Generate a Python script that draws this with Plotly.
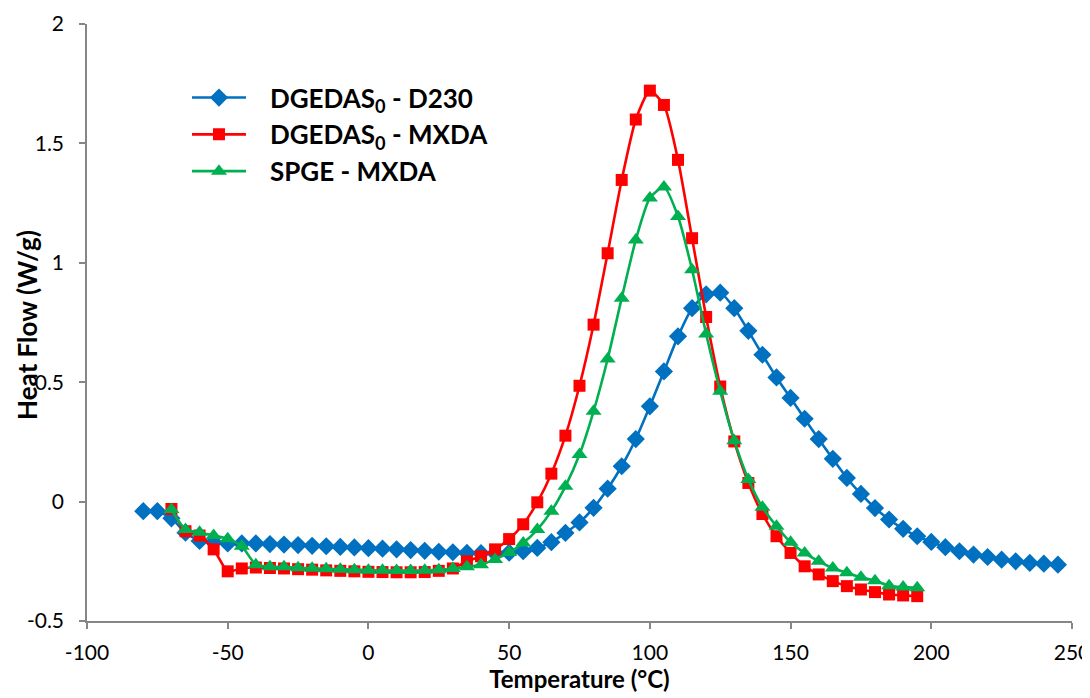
import plotly.graph_objects as go

# Temperatures (°C)
temp_d230 = list(range(-80, 250, 5))
temp_mxda = list(range(-70, 200, 5))

# Heat flow (W/g)
hf_dgedas_d230 = [
    -0.04, -0.04, -0.07, -0.13, -0.165, -0.17, -0.175, -0.175, -0.175, -0.178,
    -0.18, -0.182, -0.185, -0.187, -0.19, -0.192, -0.195, -0.197, -0.2, -0.203,
    -0.206, -0.21, -0.212, -0.215, -0.216, -0.216, -0.214, -0.208, -0.194, -0.17,
    -0.131, -0.087, -0.026, 0.054, 0.148, 0.262, 0.399, 0.545, 0.692, 0.81,
    0.868, 0.875, 0.81, 0.715, 0.615, 0.52, 0.434, 0.347, 0.262, 0.179,
    0.099, 0.032, -0.027, -0.075, -0.114, -0.145, -0.169, -0.191, -0.208, -0.222,
    -0.232, -0.243, -0.25, -0.257, -0.26, -0.264,
]
hf_dgedas_mxda = [
    -0.031, -0.124, -0.142, -0.2, -0.292, -0.28, -0.276, -0.278, -0.28, -0.283,
    -0.285, -0.288, -0.29, -0.292, -0.294, -0.295, -0.296, -0.296, -0.295, -0.29,
    -0.28, -0.25, -0.229, -0.2, -0.157, -0.095, -0.003, 0.117, 0.276, 0.485,
    0.741, 1.04, 1.347, 1.60, 1.721, 1.661, 1.431, 1.103, 0.773, 0.482,
    0.252, 0.078, -0.052, -0.145, -0.215, -0.271, -0.305, -0.333, -0.354, -0.368,
    -0.379, -0.389, -0.393, -0.396,
]
hf_spge_mxda = [
    -0.033, -0.117, -0.128, -0.142, -0.156, -0.187, -0.264, -0.273, -0.273, -0.277,
    -0.279, -0.281, -0.283, -0.285, -0.287, -0.288, -0.289, -0.289, -0.288, -0.285,
    -0.28, -0.273, -0.264, -0.242, -0.213, -0.173, -0.117, -0.04, 0.064, 0.197,
    0.378, 0.597, 0.852, 1.096, 1.271, 1.317, 1.194, 0.971, 0.702, 0.462,
    0.255, 0.093, -0.024, -0.103, -0.17, -0.215, -0.25, -0.278, -0.298, -0.317,
    -0.331, -0.352, -0.358, -0.361,
]

pad = "\u00a0\u00a0\u00a0"
series_names = ["DGEDAS<sub>0</sub> - D230", "DGEDAS<sub>0</sub> - MXDA", "SPGE - MXDA"]
series_colors = ["#0070C0", "#FF0000", "#00B050"]
x_ticks = [-100, -50, 0, 50, 100, 150, 200, 250]
x_ticktext = ["-100", "-50", "0", "50", "100", "150", "200", "250"]
y_ticks = [-0.5, 0, 0.5, 1, 1.5, 2]
y_ticktext = ["-0.5", "0", "0.5", "1", "1.5", "2"]

fig = go.Figure()
fig.add_trace(go.Scatter(
    x=temp_d230, y=hf_dgedas_d230, name=pad + series_names[0], mode="lines+markers",
    line=dict(color=series_colors[0], width=2.6, shape="spline", smoothing=0.6),
    marker=dict(symbol="diamond", size=14, color=series_colors[0]),
))
fig.add_trace(go.Scatter(
    x=temp_mxda, y=hf_dgedas_mxda, name=pad + series_names[1], mode="lines+markers",
    line=dict(color=series_colors[1], width=2.6, shape="spline", smoothing=0.6),
    marker=dict(symbol="square", size=12, color=series_colors[1]),
))
fig.add_trace(go.Scatter(
    x=temp_mxda, y=hf_spge_mxda, name=pad + series_names[2], mode="lines+markers",
    line=dict(color=series_colors[2], width=2.6, shape="spline", smoothing=0.6),
    marker=dict(symbol="triangle-up", size=14, color=series_colors[2]),
))

axis_color = "#868686"
fig.update_layout(
    width=1082, height=690,
    margin=dict(l=79, r=18, t=16, b=77),
    plot_bgcolor="white", paper_bgcolor="white",
    font=dict(family="Lato, 'Open Sans', sans-serif", color="black"),
    showlegend=True,
    legend=dict(
        x=0.1015, y=0.916, xanchor="left", yanchor="top",
        font=dict(size=26, family="Lato, 'Open Sans', sans-serif", weight="bold"),
        itemwidth=54, tracegroupgap=0, bgcolor="rgba(0,0,0,0)",
    ),
    xaxis=dict(
        range=[-100, 250], tickvals=x_ticks, ticktext=x_ticktext, showgrid=False, zeroline=False,
        showline=True, linecolor=axis_color, linewidth=1.5, automargin=False,
        ticks="outside", ticklen=6, tickcolor=axis_color, tickwidth=1.5,
        tickfont=dict(size=21), ticklabeloverflow="allow", ticklabelstandoff=6,
        title=dict(text="<b>Temperature (°C)</b>", font=dict(size=24), standoff=6),
    ),
    yaxis=dict(
        range=[-0.5, 2], tickvals=y_ticks, ticktext=y_ticktext, showgrid=False, zeroline=False,
        showline=True, linecolor=axis_color, linewidth=1.5, automargin=False,
        ticks="outside", ticklen=6, tickcolor=axis_color, tickwidth=1.5,
        tickfont=dict(size=21), ticklabeloverflow="allow", ticklabelstandoff=11,
    ),
    annotations=[dict(
        text="<b>Heat Flow (W/g)</b>", xref="paper", yref="paper",
        x=-0.0609, y=0.496, xanchor="center", yanchor="middle",
        textangle=-90, showarrow=False, font=dict(size=26),
    )],
)

fig.write_html("out.html")
